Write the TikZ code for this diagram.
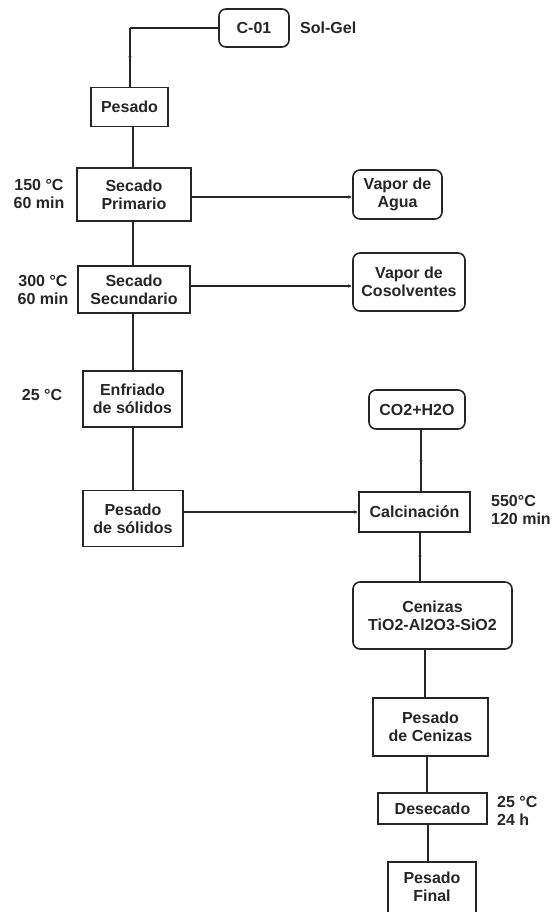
\documentclass[tikz,border=0pt]{standalone}
\usepackage{fontspec}
\setmainfont{Liberation Sans}
\usetikzlibrary{arrows.meta,decorations.markings}
\tikzset{
  base/.style={draw=black!85, line width=1.6pt, align=center, inner sep=0pt,
    font=\fontsize{16}{18}\selectfont\bfseries, text=black!85},
  box/.style={base, rectangle},
  rbox/.style={base, rectangle, rounded corners=7pt},
  lbl/.style={font=\fontsize{16}{18}\selectfont\bfseries, text=black!85, inner sep=0pt},
  conn/.style={draw=black!85, line width=1.6pt},
  endarr/.style={conn, -{Latex[length=4pt,width=3.5pt]}},
  midarr/.style={conn, postaction={decorate}, decoration={markings,
    mark=at position 0.55 with {\arrow{Latex[length=4pt,width=3.5pt]}}}}
}
\begin{document}
\begin{tikzpicture}[x=1pt,y=-1pt]
\useasboundingbox (0,0) rectangle (555,912);
\clip (0,0) rectangle (555,912);
% nodes
\node[rbox, minimum width=70pt, minimum height=38pt] (c01) at (254,28) {C-01};
\node[lbl, anchor=west] (solgel) at (300,28) {Sol-Gel};
\node[box, minimum width=77pt, minimum height=39pt] (pes1) at (129.5,107) {Pesado};
\node[box, minimum width=114pt, minimum height=53pt] (sp) at (134,194.5) {Secado\\Primario};
\node[lbl, align=center] (t1) at (39,194) {150 °C\\60 min};
\node[rbox, minimum width=89pt, minimum height=49pt] (va) at (397.5,194.5) {Vapor de\\Agua};
\node[box, minimum width=112pt, minimum height=47pt] (ss) at (134,289.5) {Secado\\Secundario};
\node[lbl, align=center] (t2) at (43,290) {300 °C\\60 min};
\node[rbox, minimum width=112pt, minimum height=58pt] (vc) at (409,282) {Vapor de\\Cosolventes};
\node[box, minimum width=99pt, minimum height=56pt] (enf) at (132.5,399) {Enfriado\\de sólidos};
\node[lbl] (t3) at (42,395) {25 °C};
\node[box, minimum width=100pt, minimum height=56pt] (pss) at (133,518.5) {Pesado\\de sólidos};
\node[box, minimum width=111pt, minimum height=40pt] (cal) at (414.5,512) {Calcinación};
\node[lbl, align=left, anchor=west] (t4) at (491,510) {550°C\\120 min};
\node[rbox, minimum width=96pt, minimum height=39pt] (co2) at (417,409.5) {CO2+H2O};
\node[rbox, minimum width=159pt, minimum height=67pt] (cen) at (432.5,615.5) {Cenizas\\TiO2-Al2O3-SiO2};
\node[box, minimum width=115pt, minimum height=58pt] (pc) at (430.5,727) {Pesado\\de Cenizas};
\node[box, minimum width=109pt, minimum height=31pt] (des) at (432.5,808.5) {Desecado};
\node[lbl, align=left, anchor=west] (t5) at (497,811) {25 °C\\24 h};
\node[box, minimum width=88pt, minimum height=66pt, text depth=16pt] (pf) at (432,895) {Pesado\\Final};
% connectors
\coordinate (k1) at (130,28);
\draw[conn] (c01.west) -- (k1);
\draw[midarr] (k1) -- (k1 |- pes1.north);
\draw[conn] (pes1.south -| 133,0) -- (133,0 |- sp.north);
\draw[endarr] (sp.east |- 0,197) -- (va.west |- 0,197);
\draw[conn] (sp.south -| 133,0) -- (133,0 |- ss.north);
\draw[endarr] (ss.east |- 0,286) -- (vc.west |- 0,286);
\draw[conn] (ss.south -| 133,0) -- (133,0 |- enf.north);
\draw[conn] (enf.south -| 133,0) -- (133,0 |- pss.north);
\draw[endarr] (pss.east |- cal.west) -- (cal.west);
\draw[midarr] (cal.north -| 421,0) -- (421,0 |- co2.south);
\draw[midarr] (cal.south -| 420,0) -- (420,0 |- cen.north);
\draw[conn] (cen.south -| 425,0) -- (425,0 |- pc.north);
\draw[conn] (pc.south -| 427,0) -- (427,0 |- des.north);
\draw[conn] (des.south -| 428,0) -- (428,0 |- pf.north);
\end{tikzpicture}
\end{document}
